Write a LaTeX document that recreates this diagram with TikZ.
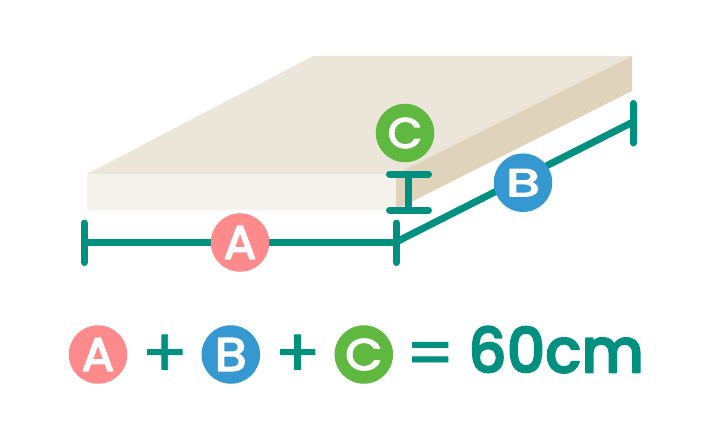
\documentclass[tikz,border=0pt]{standalone}
\usepackage{fontspec}
\setmainfont{Poppins}
\newfontfamily\roundfont[FakeBold=3.4]{Poppins}
\newfontfamily\signfont[FakeBold=1.2]{Poppins}
\newfontfamily\totalfont[FakeBold=2.8]{Poppins Medium}
\definecolor{teal}{HTML}{00907F}
\definecolor{topface}{HTML}{EBE5DA}
\definecolor{frontface}{HTML}{F5F2EB}
\definecolor{sideface}{HTML}{DFD3BB}
\definecolor{pinkbadge}{HTML}{FF8A8C}
\definecolor{bluebadge}{HTML}{3598D0}
\definecolor{greenbadge}{HTML}{5FB83F}
% Round stroke joins and caps, so that emboldened glyphs get soft corners
\newcommand{\softglyphs}{\special{pdf:code 1 j 1 J}}
\tikzset{
  measure/.style={draw=teal, line width=7pt, line cap=round},
  badge/.style={circle, minimum size=58.5pt, inner sep=0pt, text=white,
    font=\roundfont\fontsize{40}{40}\selectfont\softglyphs},
  sumtext/.style={inner sep=0pt, text=teal, anchor=base},
  signtext/.style={sumtext, font=\signfont\fontsize{68}{68}\selectfont\softglyphs},
}
\begin{document}
\begin{tikzpicture}[x=1pt, y=-1pt]
  \useasboundingbox (0,0) rectangle (708,440);
  % mattress faces
  \fill[topface] (87,174) -- (313,56) -- (632,56) -- (396,174) -- cycle;
  \fill[frontface] (87,174) rectangle (396,210);
  \fill[sideface] (396,174) -- (632,56) -- (632,91) -- (396,209.5) -- cycle;

  % end points of the dimension lines
  \coordinate (aL) at (84,242);
  \coordinate (aR) at (396,242);
  \coordinate (bR) at (633,122);
  \coordinate (cT) at (408.5,174);
  \coordinate (cB) at (408.5,210);

  % width
  \draw[measure, line cap=butt] (aL) -- (aR);
  \draw[measure] (84,223) -- (84,262.5);
  \draw[measure] (396,223) -- (396,262.5);
  % depth
  \draw[measure, line cap=butt] (aR) -- (bR);
  \draw[measure] (633,103.5) -- (633,143);
  % height
  \draw[measure, line cap=butt] (cT) -- (cB);
  \draw[measure] (389.5,174) -- (428.5,174);
  \draw[measure] (389.5,210) -- (428.5,210);

  % labels on the drawing
  \node[badge, fill=pinkbadge] (labelA) at (240,242.5) {\scalebox{1.2}[1.17]{A}};
  \node[badge, fill=bluebadge] (labelB) at (523,182.7) {\scalebox{1.39}[0.97]{B}};
  \node[badge, fill=greenbadge] (labelC) at (405,133) {\scalebox{1.12}[1.06]{C}};

  % the sum
  \node[badge, fill=pinkbadge] (sumA) at (98,354.5) {\scalebox{1.2}[1.17]{A}};
  \node[signtext] (plusOne) at (164.8,377) {+};
  \node[badge, fill=bluebadge] (sumB) at (230.8,354.5) {\scalebox{1.3}[1.17]{B}};
  \node[signtext] (plusTwo) at (297.5,377) {+};
  \node[badge, fill=greenbadge] (sumC) at (363.8,354.5) {\scalebox{1.2}[1.1]{C}};
  \node[signtext] (equals) at (430.3,377) {=};
  \node[sumtext, font=\totalfont\fontsize{62}{62}\selectfont\softglyphs] (total) at (556,372.5) {\scalebox{0.97}[1]{60cm}};
\end{tikzpicture}
\end{document}
